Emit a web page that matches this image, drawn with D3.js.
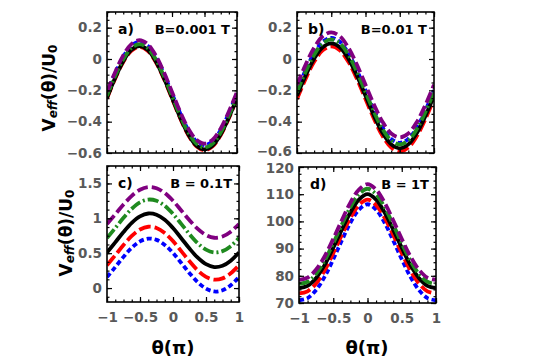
<!DOCTYPE html>
<html>
<head>
<meta charset="utf-8">
<script src="https://cdn.jsdelivr.net/npm/d3@7"></script>
<style>
  body { margin: 0; background: #fff; }
  svg { display: block; font-family: "DejaVu Sans", sans-serif; }
</style>
</head>
<body>
<div id="chart"></div>
<script>
// theta grid (units of pi)
const theta = [-1, -0.875, -0.75, -0.625, -0.5, -0.375, -0.25, -0.125, 0,
  0.125, 0.25, 0.375, 0.5, 0.625, 0.75, 0.875, 1];

// panel a) B=0.001 T
const aPurple = [-0.21, -0.084, 0.023, 0.095, 0.12, 0.095, 0.023, -0.084, -0.21, -0.336, -0.443, -0.515, -0.54, -0.515, -0.443, -0.336, -0.21];
const aGreen  = [-0.235, -0.109, -0.002, 0.07, 0.095, 0.07, -0.002, -0.109, -0.235, -0.361, -0.468, -0.54, -0.565, -0.54, -0.468, -0.361, -0.235];
const aBlack  = [-0.247, -0.121, -0.014, 0.058, 0.083, 0.058, -0.014, -0.121, -0.247, -0.373, -0.48, -0.552, -0.577, -0.552, -0.48, -0.373, -0.247];
const aRed    = [-0.252, -0.126, -0.019, 0.053, 0.078, 0.053, -0.019, -0.126, -0.252, -0.378, -0.485, -0.557, -0.582, -0.557, -0.485, -0.378, -0.252];
const aBlue   = [-0.22, -0.094, 0.013, 0.085, 0.11, 0.085, 0.013, -0.094, -0.22, -0.346, -0.453, -0.525, -0.55, -0.525, -0.453, -0.346, -0.22];

// panel b) B=0.01 T
const bPurple = [-0.165, -0.037, 0.072, 0.145, 0.17, 0.145, 0.072, -0.037, -0.165, -0.293, -0.402, -0.475, -0.5, -0.475, -0.402, -0.293, -0.165];
const bGreen  = [-0.21, -0.082, 0.027, 0.1, 0.125, 0.1, 0.027, -0.082, -0.21, -0.338, -0.447, -0.52, -0.545, -0.52, -0.447, -0.338, -0.21];
const bBlack  = [-0.235, -0.107, 0.002, 0.075, 0.1, 0.075, 0.002, -0.107, -0.235, -0.363, -0.472, -0.545, -0.57, -0.545, -0.472, -0.363, -0.235];
const bRed    = [-0.255, -0.127, -0.018, 0.055, 0.08, 0.055, -0.018, -0.127, -0.255, -0.383, -0.492, -0.565, -0.59, -0.565, -0.492, -0.383, -0.255];
const bBlue   = [-0.2, -0.072, 0.037, 0.11, 0.135, 0.11, 0.037, -0.072, -0.2, -0.328, -0.437, -0.51, -0.535, -0.51, -0.437, -0.328, -0.2];

// panel c) B = 0.1T
const cPurple = [0.919, 1.057, 1.198, 1.322, 1.41, 1.449, 1.432, 1.362, 1.251, 1.113, 0.972, 0.848, 0.76, 0.721, 0.738, 0.808, 0.919];
const cGreen  = [0.717, 0.86, 1.007, 1.137, 1.229, 1.269, 1.251, 1.179, 1.063, 0.92, 0.773, 0.643, 0.551, 0.511, 0.529, 0.601, 0.717];
const cBlack  = [0.51, 0.655, 0.804, 0.935, 1.028, 1.069, 1.051, 0.978, 0.86, 0.715, 0.566, 0.435, 0.342, 0.301, 0.319, 0.392, 0.51];
const cRed    = [0.327, 0.47, 0.617, 0.747, 0.839, 0.879, 0.861, 0.789, 0.673, 0.53, 0.383, 0.253, 0.161, 0.121, 0.139, 0.211, 0.327];
const cBlue   = [0.157, 0.3, 0.447, 0.577, 0.669, 0.709, 0.691, 0.619, 0.503, 0.36, 0.213, 0.083, -0.009, -0.049, -0.031, 0.041, 0.157];

// panel d) B = 1T
const dPurple = [78.5, 79.3, 82.3, 87.2, 93.6, 100.4, 106.9, 111.7, 113.7, 111.7, 106.9, 100.4, 93.6, 87.2, 82.3, 79.3, 78.5];
const dGreen  = [77, 77.8, 80.7, 85.6, 92.0, 98.8, 105.2, 110.0, 112, 110.0, 105.2, 98.8, 92.0, 85.6, 80.7, 77.8, 77];
const dBlack  = [75.5, 76.3, 79.2, 84.0, 90.3, 97.0, 103.3, 108.0, 110, 108.0, 103.3, 97.0, 90.3, 84.0, 79.2, 76.3, 75.5];
const dRed    = [73.5, 74.3, 77.2, 82.0, 88.3, 95.0, 101.3, 106.0, 108, 106.0, 101.3, 95.0, 88.3, 82.0, 77.2, 74.3, 73.5];
const dBlue   = [71, 71.8, 74.8, 79.7, 86.1, 93.0, 99.5, 104.3, 106.3, 104.3, 99.5, 93.0, 86.1, 79.7, 74.8, 71.8, 71];

const xTicks = [-1, -0.5, 0, 0.5, 1];
const yTicksAB = [-0.6, -0.4, -0.2, 0, 0.2];
const yTicksC = [0, 0.5, 1, 1.5];
const yTicksD = [70, 80, 90, 100, 110, 120];

// draw order: blue, red, black, green, purple
const styles = [
  { color: "#0000ff", dash: "5,3" },
  { color: "#ff0000", dash: "12,4" },
  { color: "#000000", dash: null },
  { color: "#1f8a1f", dash: "11,3,2,3" },
  { color: "#800080", dash: "11,4" }
];

const width = 543, height = 364;
const svg = d3.select("#chart").append("svg")
  .attr("width", width).attr("height", height);

const fmt = d3.format("~g");

const panels = [
  { id: "a", label: "a)", title: "B=0.001 T", box: [107, 237, 12, 153], yDomain: [-0.6, 0.3], yTicks: yTicksAB, yStep: 0.05,
    series: [aBlue, aRed, aBlack, aGreen, aPurple], xLabels: false },
  { id: "b", label: "b)", title: "B=0.01 T", box: [297, 434, 12, 153], yDomain: [-0.6, 0.3], yTicks: yTicksAB, yStep: 0.05,
    series: [bBlue, bRed, bBlack, bGreen, bPurple], xLabels: false, nudge: { v: -0.6, dy: -2 } },
  { id: "c", label: "c)", title: "B = 0.1T", box: [107, 239, 166, 302], yDomain: [-0.2, 1.75], yTicks: yTicksC, yStep: 0.125,
    series: [cBlue, cRed, cBlack, cGreen, cPurple], xLabels: true },
  { id: "d", label: "d)", title: "B = 1T", box: [299, 436, 167, 303], yDomain: [70, 120], yTicks: yTicksD, yStep: 2.5,
    series: [dBlue, dRed, dBlack, dGreen, dPurple], xLabels: true, nudge: { v: 120, dy: 1.5 } }
];

panels.forEach(p => {
  const [x0, x1, y0, y1] = p.box;
  const x = d3.scaleLinear().domain([-1, 1]).range([x0, x1]);
  const y = d3.scaleLinear().domain(p.yDomain).range([y1, y0]);
  const g = svg.append("g");

  g.append("clipPath").attr("id", "clip-" + p.id)
    .append("rect").attr("x", x0).attr("y", y0).attr("width", x1 - x0).attr("height", y1 - y0);

  const line = d3.line()
    .x((d, i) => x(theta[i]))
    .y(d => y(d))
    .curve(d3.curveCatmullRom);

  g.append("g").attr("clip-path", `url(#clip-${p.id})`)
    .selectAll("path")
    .data(p.series)
    .join("path")
    .attr("fill", "none")
    .attr("stroke", (d, i) => styles[i].color)
    .attr("stroke-width", 3.8)
    .attr("stroke-dasharray", (d, i) => styles[i].dash)
    .attr("d", line);

  const xMinor = d3.range(-1, 1.0001, 0.125);
  const [ya, yb] = p.yDomain;
  const yMinor = d3.range(Math.ceil(ya / p.yStep) * p.yStep, yb + 1e-9, p.yStep);

  const addAxis = (axis, tx, ty) => {
    const ag = g.append("g").attr("transform", `translate(${tx},${ty})`).call(axis);
    ag.select(".domain").remove();
    ag.selectAll("line").attr("stroke", "#000").attr("stroke-width", 1.2);
    return ag;
  };

  // minor ticks on all sides
  addAxis(d3.axisBottom(x).tickValues(xMinor).tickSize(-2.5).tickFormat(""), 0, y1);
  addAxis(d3.axisTop(x).tickValues(xMinor).tickSize(-2.5).tickFormat(""), 0, y0);
  addAxis(d3.axisLeft(y).tickValues(yMinor).tickSize(-2.5).tickFormat(""), x0, 0);
  addAxis(d3.axisRight(y).tickValues(yMinor).tickSize(-2.5).tickFormat(""), x1, 0);

  // major ticks
  const bottom = addAxis(d3.axisBottom(x).tickValues(xTicks).tickSize(-5).tickPadding(10)
    .tickFormat(p.xLabels ? fmt : ""), 0, y1);
  addAxis(d3.axisTop(x).tickValues(xTicks).tickSize(-5).tickFormat(""), 0, y0);
  const left = addAxis(d3.axisLeft(y).tickValues(p.yTicks).tickSize(-5).tickPadding(5).tickFormat(fmt), x0, 0);
  addAxis(d3.axisRight(y).tickValues(p.yTicks).tickSize(-5).tickFormat(""), x1, 0);

  [bottom, left].forEach(ag => ag.selectAll("text")
    .attr("fill", "#595959")
    .style("font-family", "DejaVu Sans, sans-serif")
    .style("font-size", "13.5px")
    .style("font-weight", "bold"));

  // keep the edge labels of stacked panels apart
  if (p.nudge) {
    left.selectAll(".tick").filter(d => d === p.nudge.v).select("text")
      .attr("y", p.nudge.dy);
  }

  g.append("rect")
    .attr("x", x0).attr("y", y0).attr("width", x1 - x0).attr("height", y1 - y0)
    .attr("fill", "none").attr("stroke", "#000").attr("stroke-width", 1.6);

  g.append("text")
    .attr("x", x0 + 11).attr("y", y0 + 22)
    .attr("font-size", 14).attr("font-weight", "bold")
    .text(p.label);

  g.append("text")
    .attr("x", x1 - 7).attr("y", y0 + 22)
    .attr("text-anchor", "end")
    .attr("font-size", 13).attr("font-weight", "bold")
    .text(p.title);
});

// y axis titles
[[49, 88], [66, 233]].forEach(([cx, cy]) => {
  const t = svg.append("text")
    .attr("transform", `translate(${cx},${cy}) rotate(-90)`)
    .attr("text-anchor", "middle")
    .attr("dominant-baseline", "central")
    .attr("font-size", 17).attr("font-weight", "bold");
  t.append("tspan").text("V");
  t.append("tspan").attr("font-size", 12).attr("font-style", "italic").attr("dy", 4).text("eff");
  t.append("tspan").attr("dy", -4).text("(θ)/U");
  t.append("tspan").attr("font-size", 12).attr("dy", 4).text("0");
});

// x axis titles
[173, 367].forEach(cx => {
  svg.append("text")
    .attr("x", cx).attr("y", 354)
    .attr("text-anchor", "middle")
    .attr("font-size", 18).attr("font-weight", "bold")
    .text("θ(π)");
});
</script>
</body>
</html>
